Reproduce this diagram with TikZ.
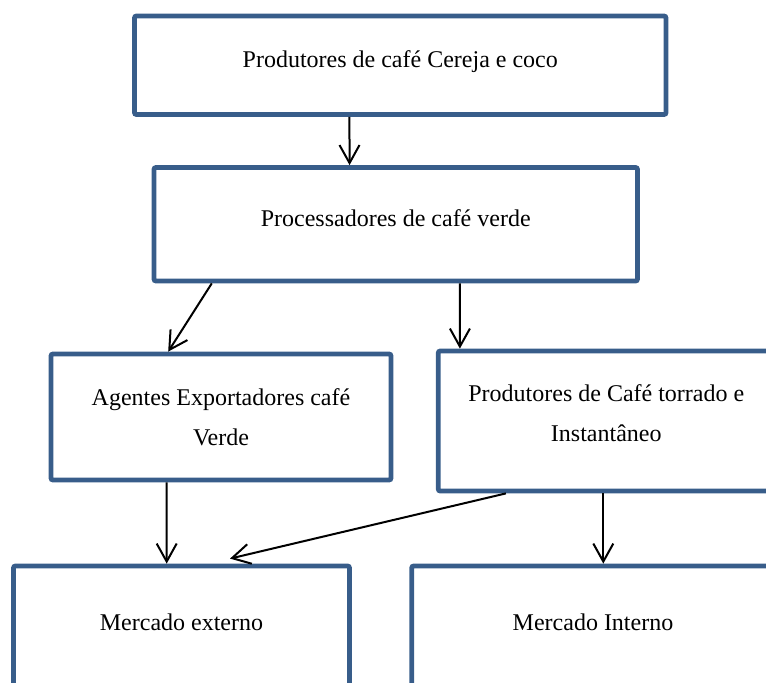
\documentclass[tikz,border=0pt]{standalone}
\usepackage{fontspec}
\setmainfont{Liberation Serif}
\usetikzlibrary{arrows.meta,calc,positioning}
\definecolor{boxblue}{HTML}{385D8A}

\begin{document}
\begin{tikzpicture}[
      x=0.5pt, y=-0.5pt,
      block/.style={draw=boxblue, line width=2.4pt, rounded corners=1pt, align=center, font=\fontsize{12}{20}\selectfont},
      oneline/.style={text height=8.5pt, text depth=6.5pt},
      arr/.style={-{Straight Barb[length=9pt,width=10pt]}, line width=1pt}
  ]
    \useasboundingbox (0,0) rectangle (766,682);
    \clip (0,0) rectangle (766,682);
    \node[block, oneline, minimum width=265.75pt, minimum height=49.25pt] (cereja) at (400.25,65.25) {Produtores de café Cereja e coco};
    \node[block, oneline, minimum width=241.75pt, minimum height=56.75pt] (proc) at (395.75,224.25) {Processadores de café verde};
    \node[block, minimum width=170pt, minimum height=63pt] (agent) at (221,417) {Agentes Exportadores café\\Verde};
    \node[block, text depth=8pt, minimum width=168pt, minimum height=70pt] (torr) at (606.3,421) {Produtores de Café torrado e\\Instantâneo};
    \node[block, oneline, minimum width=168pt, minimum height=62pt] (ext) at (181.5,628) {Mercado externo};
    \node[block, oneline, minimum width=181.3pt, minimum height=62pt] (int) at (593,628) {Mercado Interno};
    \draw[arr] ([xshift=-25.4pt]cereja.south) -- ([xshift=-23.1pt]proc.north);
    \draw[arr] ([xshift=-92pt]proc.south) -- ([xshift=-26.4pt]agent.north);
    \draw[arr] ([xshift=32.1pt]proc.south) -- ([xshift=-73.2pt]torr.north);
    \draw[arr] ([xshift=-27.2pt]agent.south) -- ([xshift=-7.4pt]ext.north);
    \draw[arr] ([xshift=-50.2pt]torr.south) -- ([xshift=24.25pt,yshift=2.5pt]ext.north);
    \draw[arr] ([xshift=-1.5pt]torr.south) -- ([xshift=5.15pt]int.north);
  \end{tikzpicture}
\end{document}
